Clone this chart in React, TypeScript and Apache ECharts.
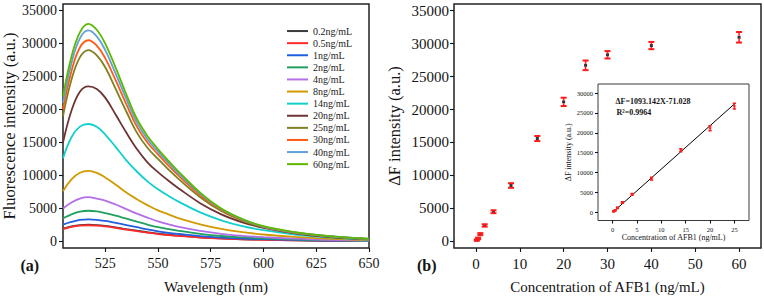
import React, { useEffect, useRef } from 'react';
import * as echarts from 'echarts';

// ---------- Data ----------
const wavelengths = [505, 509, 513, 517, 521, 525, 530, 535, 540, 545, 550, 555, 560, 570, 580, 590, 600, 615, 630, 650];

const seriesLabels = ['0.2ng/mL', '0.5ng/mL', '1ng/mL', '2ng/mL', '4ng/mL', '8ng/mL', '14ng/mL', '20ng/mL', '25ng/mL', '30ng/mL', '40ng/mL', '60ng/mL'];
const seriesColors = ['#3c3c3c', '#ff2a2a', '#1f5fe0', '#20a060', '#b46ee8', '#d29a00', '#12cfcf', '#6e3434', '#808020', '#ff5a14', '#63a0d8', '#5cb800'];

const int0_2 = [1950, 2280, 2480, 2530, 2480, 2350, 2120, 1860, 1620, 1390, 1180, 1010, 870, 620, 450, 330, 260, 160, 100, 50];
const int0_5 = [1850, 2200, 2400, 2450, 2400, 2280, 2060, 1800, 1560, 1330, 1120, 960, 830, 590, 420, 310, 240, 150, 90, 40];
const int1 = [2550, 2950, 3250, 3350, 3280, 3100, 2800, 2480, 2150, 1820, 1530, 1300, 1120, 800, 580, 430, 340, 220, 130, 60];
const int2 = [3500, 4100, 4500, 4650, 4550, 4300, 3900, 3450, 3000, 2550, 2150, 1850, 1600, 1150, 820, 600, 460, 300, 180, 80];
const int4 = [5000, 5900, 6500, 6700, 6500, 6200, 5600, 4900, 4200, 3600, 3050, 2600, 2200, 1600, 1150, 850, 640, 410, 240, 110];
const int8 = [7600, 9400, 10400, 10700, 10400, 9700, 8600, 7400, 6400, 5500, 4700, 4100, 3500, 2600, 1900, 1400, 1050, 680, 410, 180];
const int14 = [12600, 15800, 17400, 17800, 17400, 16200, 14300, 12300, 10600, 9100, 7900, 6900, 6000, 4400, 3200, 2300, 1700, 1050, 620, 280];
const int20 = [15000, 19800, 22700, 23500, 23100, 21800, 19200, 16500, 14000, 12000, 10500, 9200, 8000, 5800, 4100, 2900, 2050, 1220, 700, 330];
const int25 = [19000, 24500, 27900, 29000, 28200, 26400, 23100, 19700, 16500, 14200, 12500, 10900, 9400, 6700, 4600, 3150, 2150, 1300, 780, 360];
const int30 = [20000, 25800, 29400, 30500, 29700, 27800, 24400, 20800, 17400, 15000, 13200, 11500, 9900, 7000, 4800, 3280, 2200, 1320, 800, 370];
const int40 = [21000, 27000, 30800, 32000, 31100, 29000, 25400, 21600, 18000, 15500, 13600, 11900, 10200, 7200, 4900, 3350, 2250, 1360, 820, 380];
const int60 = [22000, 28000, 31700, 33000, 32100, 30000, 26300, 22300, 18600, 16000, 14000, 12200, 10500, 7400, 5000, 3400, 2300, 1400, 850, 400];
const spectra = [int0_2, int0_5, int1, int2, int4, int8, int14, int20, int25, int30, int40, int60];

const concentrations = [0.2, 0.5, 1, 2, 4, 8, 14, 20, 25, 30, 40, 60];
const deltaF = [200, 450, 1100, 2420, 4500, 8480, 15600, 21160, 26700, 28300, 29700, 30950];
const deltaFErr = [100, 120, 150, 180, 220, 350, 380, 630, 730, 560, 550, 800];
const insetPointCount = 9; // 0.2 ... 25 ng/mL
const fitLine = [[0.2, 148], [25, 27257]];
const fitEquation = 'ΔF=1093.142X-71.028';
const fitR2 = 'R²=0.9964';

const leftXTicks = [525, 550, 575, 600, 625, 650];
const leftYTicks = [0, 5000, 10000, 15000, 20000, 25000, 30000, 35000];
const rightXTicks = [0, 10, 20, 30, 40, 50, 60];
const rightYTicks = [0, 5000, 10000, 15000, 20000, 25000, 30000, 35000];
const insetXTicks = [0, 5, 10, 15, 20, 25];
const insetYTicks = [0, 5000, 10000, 15000, 20000, 25000, 30000];

// ---------- Styling ----------
const FONT = 'Liberation Serif';
const INK = '#141414';

function errorBarRenderer(capHalf: number, lw: number, gap: number, color: string) {
  return (params: any, api: any) => {
    const x = Number(api.value(0));
    const y = Number(api.value(1));
    const e = Number(api.value(2));
    const c = api.coord([x, y]);
    const t = api.coord([x, y + e]);
    const b = api.coord([x, y - e]);
    const children: any[] = [];
    const st = { stroke: color, lineWidth: lw };
    if (t[1] < c[1] - gap) children.push({ type: 'line', shape: { x1: c[0], y1: t[1], x2: c[0], y2: c[1] - gap }, style: st });
    if (b[1] > c[1] + gap) children.push({ type: 'line', shape: { x1: c[0], y1: c[1] + gap, x2: c[0], y2: b[1] }, style: st });
    children.push({ type: 'line', shape: { x1: c[0] - capHalf, y1: t[1], x2: c[0] + capHalf, y2: t[1] }, style: { stroke: color, lineWidth: lw + 0.5 } });
    children.push({ type: 'line', shape: { x1: c[0] - capHalf, y1: b[1], x2: c[0] + capHalf, y2: b[1] }, style: { stroke: color, lineWidth: lw + 0.5 } });
    return { type: 'group', children };
  };
}

function valueAxis(opts: any) {
  const { gridIndex, min, max, ticks, fontSize, margin, name, nameGap, nameSize, tickLen } = opts;
  return {
    type: 'value',
    gridIndex,
    min,
    max,
    axisLine: { show: false, onZero: false },
    splitLine: { show: false },
    axisTick: { show: true, inside: false, length: tickLen, customValues: ticks, lineStyle: { color: INK, width: 1.1 } },
    axisLabel: { customValues: ticks, fontSize, fontFamily: FONT, color: INK, margin, formatter: (v: number) => String(v) },
    axisPointer: { show: false },
    name,
    nameLocation: 'middle',
    nameGap,
    nameTextStyle: { fontSize: nameSize, fontFamily: FONT, color: INK },
  };
}

export default function App() {
  const ref = useRef<HTMLDivElement>(null);

  useEffect(() => {
    document.body.style.margin = '0';
    if (!ref.current) return;
    const chart = echarts.init(ref.current, undefined, { renderer: 'svg' });

    const lineSeries = spectra.map((arr, i) => ({
      type: 'line',
      name: seriesLabels[i],
      xAxisIndex: 0,
      yAxisIndex: 0,
      data: wavelengths.map((w, j) => [w, arr[j]]),
      showSymbol: false,
      symbol: 'none',
      smooth: 0.4,
      lineStyle: { width: 1.8, color: seriesColors[i] },
      itemStyle: { color: seriesColors[i] },
    }));

    const mainPts = concentrations.map((c, i) => [c, deltaF[i], deltaFErr[i]]);
    const insetPts = mainPts.slice(0, insetPointCount);

    const option: any = {
      animation: false,
      backgroundColor: '#ffffff',
      textStyle: { fontFamily: FONT },
      grid: [
        { left: 63, top: 4, width: 306, height: 244, show: true, borderColor: '#222', borderWidth: 1.5, backgroundColor: 'transparent' },
        { left: 454, top: 4, width: 307, height: 244, show: true, borderColor: '#222', borderWidth: 1.5, backgroundColor: 'transparent' },
        { left: 598, top: 84, width: 151, height: 136.5, show: true, borderColor: '#3a3a3a', borderWidth: 1, backgroundColor: '#ffffff', z: 5 },
      ],
      xAxis: [
        valueAxis({ gridIndex: 0, min: 505, max: 650, ticks: leftXTicks, fontSize: 14, margin: 8, name: 'Wavelength (nm)', nameGap: 31, nameSize: 15, tickLen: 4 }),
        valueAxis({ gridIndex: 1, min: -5, max: 65, ticks: rightXTicks, fontSize: 15, margin: 8, name: 'Concentration of AFB1 (ng/mL)', nameGap: 31, nameSize: 15, tickLen: 4 }),
        { ...valueAxis({ gridIndex: 2, min: -3, max: 28, ticks: insetXTicks, fontSize: 6.5, margin: 5, name: 'Concentration of AFB1 (ng/mL)', nameGap: 13, nameSize: 8, tickLen: 3 }), z: 6 },
      ],
      yAxis: [
        valueAxis({ gridIndex: 0, min: -1000, max: 36000, ticks: leftYTicks, fontSize: 14, margin: 6, name: 'Fluorescence intensity (a.u.)', nameGap: 45, nameSize: 16.5, tickLen: 4 }),
        valueAxis({ gridIndex: 1, min: -1000, max: 36000, ticks: rightYTicks, fontSize: 15, margin: 5, name: 'ΔF intensity (a.u.)', nameGap: 51, nameSize: 16.5, tickLen: 4 }),
        { ...valueAxis({ gridIndex: 2, min: -2100, max: 32300, ticks: insetYTicks, fontSize: 6.5, margin: 5, name: 'ΔF intensity (a.u.)', nameGap: 25, nameSize: 8, tickLen: 3 }), z: 6 },
      ],
      legend: {
        data: seriesLabels,
        orient: 'vertical',
        left: 282,
        top: 20,
        itemWidth: 21,
        itemHeight: 2,
        itemGap: 0,
        icon: 'rect',
        textStyle: { fontSize: 10, lineHeight: 12.1, fontFamily: FONT, color: '#222' },
      },
      series: [
        ...lineSeries,
        {
          type: 'scatter',
          xAxisIndex: 1,
          yAxisIndex: 1,
          data: mainPts.map((p) => [p[0], p[1]]),
          symbol: 'rect',
          symbolSize: 3,
          itemStyle: { color: '#000' },
          clip: true,
          z: 3,
        },
        {
          type: 'custom',
          xAxisIndex: 1,
          yAxisIndex: 1,
          dimensions: ['x', 'y', 'err'],
          data: mainPts,
          encode: { x: 0, y: 1 },
          renderItem: errorBarRenderer(3, 1.5, 1.5, '#ff1a1a'),
          clip: true,
          z: 4,
        },
        {
          type: 'line',
          xAxisIndex: 2,
          yAxisIndex: 2,
          data: fitLine,
          symbol: 'none',
          lineStyle: { color: '#000', width: 1 },
          z: 7,
        },
        {
          type: 'custom',
          xAxisIndex: 2,
          yAxisIndex: 2,
          dimensions: ['x', 'y', 'err'],
          data: insetPts,
          encode: { x: 0, y: 1 },
          renderItem: errorBarRenderer(1.6, 1, 0, '#ff1a1a'),
          clip: true,
          z: 8,
        },
        {
          type: 'scatter',
          xAxisIndex: 2,
          yAxisIndex: 2,
          data: insetPts.map((p) => [p[0], p[1]]),
          symbol: 'rect',
          symbolSize: 2.5,
          itemStyle: { color: '#ff1a1a' },
          clip: true,
          z: 8,
        },
      ],
      graphic: [
        { type: 'text', x: 20.5, y: 265.7, z: 10, style: { text: '(a)', font: `bold 16px ${FONT}`, fill: INK, verticalAlign: 'middle' } },
        { type: 'text', x: 417, y: 265.7, z: 10, style: { text: '(b)', font: `bold 16px ${FONT}`, fill: INK, verticalAlign: 'middle' } },
        { type: 'text', x: 615.5, y: 101, z: 10, style: { text: fitEquation, font: `bold 8px ${FONT}`, fill: INK, verticalAlign: 'middle' } },
        { type: 'text', x: 616.5, y: 112.3, z: 10, style: { text: fitR2, font: `bold 8px ${FONT}`, fill: INK, verticalAlign: 'middle' } },
      ],
    };

    chart.setOption(option);
    return () => chart.dispose();
  }, []);

  return <div ref={ref} style={{ position: 'absolute', left: 0, top: 0, width: 764, height: 299 }} />;
}
